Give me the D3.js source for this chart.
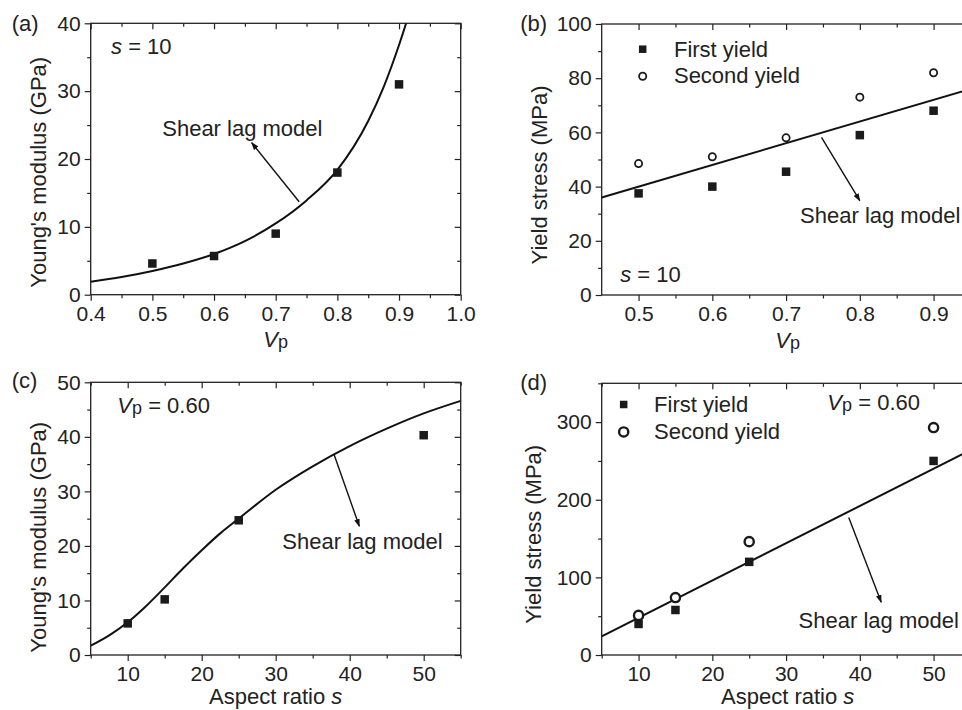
<!DOCTYPE html>
<html>
<head>
<meta charset="utf-8">
<script src="https://cdn.jsdelivr.net/npm/d3@7"></script>
<style>
  body { margin: 0; background: #fff; }
  svg text { font-family: 'Liberation Sans', Arial, Helvetica, sans-serif; fill: #222; }
</style>
</head>
<body>
<div id="chart"></div>
<script>
var totalWidth = 962, totalHeight = 710;

// ---------------- data ----------------
// (a) Young's modulus vs Vp, s = 10
var vpA = [0.5, 0.6, 0.7, 0.8, 0.9];
var modulusA = [4.6, 5.7, 9.0, 18.0, 31.0];
var modelA = [[0.40, 1.9], [0.45, 2.6], [0.50, 3.5], [0.55, 4.6], [0.60, 6.0], [0.65, 7.9],
              [0.70, 10.5], [0.75, 13.9], [0.80, 18.4], [0.85, 25.6], [0.875, 30.6],
              [0.90, 36.8], [0.915, 41]];

// (b) yield stress vs Vp, s = 10
var vpB = [0.5, 0.6, 0.7, 0.8, 0.9];
var firstYieldB = [37.5, 40, 45.5, 59, 68];
var secondYieldB = [48.5, 51, 58, 73, 82];
var modelB = [[0.45, 36], [0.95, 76]];

// (c) Young's modulus vs aspect ratio, Vp = 0.60
var sC = [10, 15, 25, 50];
var modulusC = [5.8, 10.2, 24.7, 40.3];
var modelC = [[5, 1.7], [7.5, 3.6], [10, 6.0], [12.5, 9.0], [15, 12.4], [17.5, 15.9],
              [20, 19.2], [22.5, 22.3], [25, 25.0], [30, 30.3], [35, 34.6], [40, 38.3],
              [45, 41.5], [50, 44.3], [55, 46.6]];

// (d) yield stress vs aspect ratio, Vp = 0.60
var sD = [10, 15, 25, 50];
var firstYieldD = [40, 58, 120, 250];
var secondYieldD = [51, 74, 146, 293];
var modelD = [[5, 24], [55, 264]];

// tick values
var ticksVpA = [0.4, 0.5, 0.6, 0.7, 0.8, 0.9, 1.0];
var minorVpA = [0.45, 0.55, 0.65, 0.75, 0.85, 0.95];
var ticksModA = [0, 10, 20, 30, 40];
var minorModA = [5, 15, 25, 35];
var ticksVpB = [0.5, 0.6, 0.7, 0.8, 0.9];
var minorVpB = [0.55, 0.65, 0.75, 0.85];
var ticksStressB = [0, 20, 40, 60, 80, 100];
var minorStressB = [10, 30, 50, 70, 90];
var ticksS = [10, 20, 30, 40, 50];
var minorS = [5, 15, 25, 35, 45, 55];
var ticksModC = [0, 10, 20, 30, 40, 50];
var minorModC = [5, 15, 25, 35, 45];
var ticksStressD = [0, 100, 200, 300];
var minorStressD = [50, 150, 250, 350];

var svg = d3.select("#chart").append("svg")
    .attr("width", totalWidth)
    .attr("height", totalHeight);

var defs = svg.append("defs");
defs.append("marker")
    .attr("id", "arrow")
    .attr("viewBox", "0 0 10 10")
    .attr("refX", 9).attr("refY", 5)
    .attr("markerWidth", 8).attr("markerHeight", 8)
    .attr("markerUnits", "userSpaceOnUse")
    .attr("orient", "auto")
    .append("path")
    .attr("d", "M0,1.5 L10,5 L0,8.5 Z")
    .attr("fill", "#111");

//==========================================================
function drawPanel(p) {
    var g = svg.append("g").attr("transform", "translate(" + p.left + "," + p.top + ")");
    var x = d3.scaleLinear().domain(p.xDomain).range([0, p.width]);
    var y = d3.scaleLinear().domain(p.yDomain).range([p.height, 0]);

    defs.append("clipPath").attr("id", "clip" + p.id)
        .append("rect").attr("width", p.width).attr("height", p.height);

    // axes: bottom/left outward, top/right inward
    function styleAxis(sel) {
        sel.select(".domain").remove();
        sel.selectAll("line").attr("stroke", "#222").attr("stroke-width", 1.2);
        sel.selectAll("text").style("font-size", "21px").attr("fill", "#222");
    }
    g.append("g").attr("transform", "translate(0," + p.height + ")")
        .call(d3.axisBottom(x).tickValues(p.xTicks).tickSize(6).tickPadding(5).tickFormat(p.xFormat))
        .call(styleAxis);
    g.append("g").attr("transform", "translate(0," + p.height + ")")
        .call(d3.axisBottom(x).tickValues(p.xMinor).tickSize(3.5).tickFormat(""))
        .call(styleAxis);
    g.append("g")
        .call(d3.axisTop(x).tickValues(p.xTicks).tickSize(-6).tickFormat(""))
        .call(styleAxis);
    g.append("g")
        .call(d3.axisTop(x).tickValues(p.xMinor).tickSize(-3.5).tickFormat(""))
        .call(styleAxis);
    g.append("g")
        .call(d3.axisLeft(y).tickValues(p.yTicks).tickSize(6).tickPadding(4))
        .call(styleAxis);
    g.append("g")
        .call(d3.axisLeft(y).tickValues(p.yMinor).tickSize(3.5).tickFormat(""))
        .call(styleAxis);
    g.append("g").attr("transform", "translate(" + p.width + ",0)")
        .call(d3.axisRight(y).tickValues(p.yTicks).tickSize(-6).tickFormat(""))
        .call(styleAxis);
    g.append("g").attr("transform", "translate(" + p.width + ",0)")
        .call(d3.axisRight(y).tickValues(p.yMinor).tickSize(-3.5).tickFormat(""))
        .call(styleAxis);

    g.append("rect")
        .attr("width", p.width).attr("height", p.height)
        .attr("fill", "none").attr("stroke", "#222").attr("stroke-width", 1.3);

    var plot = g.append("g").attr("clip-path", "url(#clip" + p.id + ")");

    // model curve
    var line = d3.line()
        .x(function (d) { return x(d[0]); })
        .y(function (d) { return y(d[1]); })
        .curve(d3.curveMonotoneX);
    plot.append("path")
        .datum(p.model)
        .attr("d", line)
        .attr("fill", "none")
        .attr("stroke", "#111")
        .attr("stroke-width", 2);

    // first yield / modulus squares
    plot.selectAll(".sq")
        .data(p.xs.map(function (v, i) { return [v, p.squares[i]]; }))
        .enter().append("rect")
        .attr("x", function (d) { return x(d[0]) - p.sqSize / 2; })
        .attr("y", function (d) { return y(d[1]) - p.sqSize / 2; })
        .attr("width", p.sqSize).attr("height", p.sqSize)
        .attr("fill", "#1a1a1a");

    // second yield circles
    if (p.circles) {
        plot.selectAll(".ci")
            .data(p.xs.map(function (v, i) { return [v, p.circles[i]]; }))
            .enter().append("circle")
            .attr("cx", function (d) { return x(d[0]); })
            .attr("cy", function (d) { return y(d[1]); })
            .attr("r", p.circR)
            .attr("fill", "#fff")
            .attr("stroke", "#1a1a1a")
            .attr("stroke-width", p.circW);
    }

    // arrow + "Shear lag model"
    g.append("line")
        .attr("x1", x(p.arrow[0][0])).attr("y1", y(p.arrow[0][1]))
        .attr("x2", x(p.arrow[1][0])).attr("y2", y(p.arrow[1][1]))
        .attr("stroke", "#111").attr("stroke-width", 1.4)
        .attr("marker-end", "url(#arrow)");
    g.append("text")
        .attr("x", x(p.modelLabel[0])).attr("y", y(p.modelLabel[1]))
        .style("font-size", "22px")
        .text("Shear lag model");

    // legend
    if (p.legend) {
        var L = p.legend;
        g.append("rect")
            .attr("x", x(L.x) - p.sqSize / 2 + 0.5).attr("y", y(L.y1) - p.sqSize / 2 + 0.5)
            .attr("width", p.sqSize - 1).attr("height", p.sqSize - 1)
            .attr("fill", "#1a1a1a");
        g.append("circle")
            .attr("cx", x(L.x)).attr("cy", y(L.y2)).attr("r", p.circR)
            .attr("fill", "#fff").attr("stroke", "#1a1a1a").attr("stroke-width", p.circW);
        g.append("text").attr("x", x(L.tx)).attr("y", y(L.y1) + 8)
            .style("font-size", "22px").text("First yield");
        g.append("text").attr("x", x(L.tx)).attr("y", y(L.y2) + 7)
            .style("font-size", "22px").text("Second yield");
    }

    // condition note (s = 10 or Vp = 0.60)
    var note = g.append("text")
        .attr("x", x(p.note[0])).attr("y", y(p.note[1]))
        .style("font-size", "22px");
    if (p.noteType === "s") {
        note.append("tspan").style("font-style", "italic").text("s");
        note.append("tspan").text(" = 10");
    } else {
        note.append("tspan").style("font-style", "italic").text("V");
        note.append("tspan").style("font-size", "18px").attr("dy", 1).text("p");
        note.append("tspan").attr("dy", -1).text(" = 0.60");
    }

    // axis titles
    var xt = g.append("text")
        .attr("x", p.xTitlePos[0]).attr("y", p.xTitlePos[1])
        .attr("text-anchor", "middle")
        .style("font-size", "22px");
    if (p.xTitle === "Vp") {
        xt.append("tspan").style("font-style", "italic").text("V");
        xt.append("tspan").style("font-size", "18px").attr("dy", 1).text("p");
    } else {
        xt.append("tspan").text("Aspect ratio ");
        xt.append("tspan").style("font-style", "italic").text("s");
    }
    g.append("text")
        .attr("transform", "translate(" + p.yTitlePos[0] + "," + p.yTitlePos[1] + ") rotate(-90)")
        .attr("text-anchor", "middle")
        .style("font-size", "22px")
        .text(p.yTitle);

    // panel letter
    g.append("text")
        .attr("x", p.letterPos[0]).attr("y", p.letterPos[1])
        .style("font-size", "22px").attr("fill", "#333")
        .text(p.letter);
}

//==========================================================
drawPanel({
    id: "a", left: 90.7, top: 23.3, width: 370, height: 271.4,
    xDomain: [0.4, 1.0], yDomain: [0, 40],
    xTicks: ticksVpA, xMinor: minorVpA, yTicks: ticksModA, yMinor: minorModA,
    xFormat: d3.format(".1f"),
    xs: vpA, squares: modulusA, model: modelA, sqSize: 8.5,
    arrow: [[0.738, 13.7], [0.661, 22.4]], modelLabel: [0.516, 23.4],
    note: [0.433, 35.5], noteType: "s",
    xTitle: "Vp", xTitlePos: [185, 324], yTitle: "Young's modulus (GPa)", yTitlePos: [-45, 149],
    letter: "(a)", letterPos: [-79, 7.5]
});

drawPanel({
    id: "b", left: 601.7, top: 24, width: 368.75, height: 271,
    xDomain: [0.45, 0.95], yDomain: [0, 100],
    xTicks: ticksVpB, xMinor: minorVpB, yTicks: ticksStressB, yMinor: minorStressB,
    xFormat: d3.format(".1f"),
    xs: vpB, squares: firstYieldB, circles: secondYieldB, model: modelB,
    sqSize: 8.5, circR: 3.6, circW: 1.8,
    legend: { x: 0.5056, tx: 0.548, y1: 90.7, y2: 80.7 },
    arrow: [[0.748, 58.2], [0.800, 34.8]], modelLabel: [0.719, 26.6],
    note: [0.475, 4.9], noteType: "s",
    xTitle: "Vp", xTitlePos: [186, 324], yTitle: "Yield stress (MPa)", yTitlePos: [-55, 151],
    letter: "(b)", letterPos: [-81.5, 6.5]
});

drawPanel({
    id: "c", left: 90.7, top: 382.3, width: 370, height: 272.7,
    xDomain: [5, 55], yDomain: [0, 50],
    xTicks: ticksS, xMinor: minorS, yTicks: ticksModC, yMinor: minorModC,
    xFormat: d3.format("d"),
    xs: sC, squares: modulusC, model: modelC, sqSize: 8.5,
    arrow: [[37.9, 36.7], [41.3, 23.6]], modelLabel: [30.9, 19.4],
    note: [8.6, 44.3], noteType: "vp",
    xTitle: "s", xTitlePos: [185, 321.5], yTitle: "Young's modulus (GPa)", yTitlePos: [-45, 155],
    letter: "(c)", letterPos: [-79, 5.5]
});

drawPanel({
    id: "d", left: 601.7, top: 383.3, width: 368.75, height: 271.7,
    xDomain: [5, 55], yDomain: [0, 350],
    xTicks: ticksS, xMinor: minorS, yTicks: ticksStressD, yMinor: minorStressD,
    xFormat: d3.format("d"),
    xs: sD, squares: firstYieldD, circles: secondYieldD, model: modelD,
    sqSize: 8.5, circR: 4.6, circW: 2.4,
    legend: { x: 7.98, tx: 12.1, y1: 322.7, y2: 287.3 },
    arrow: [[38.5, 177], [42.9, 68]], modelLabel: [31.7, 35.1],
    note: [35.6, 315], noteType: "vp",
    xTitle: "s", xTitlePos: [186, 320.5], yTitle: "Yield stress (MPa)", yTitlePos: [-61, 151],
    letter: "(d)", letterPos: [-81.5, 6.5]
});
</script>
</body>
</html>
